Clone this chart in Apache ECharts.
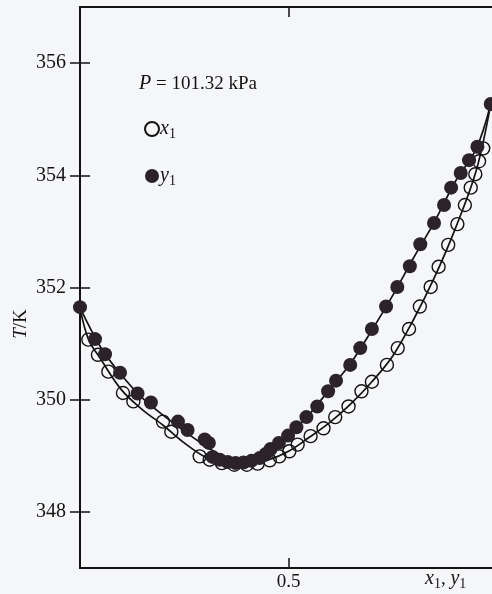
<!DOCTYPE html>
<html>
<head>
<meta charset="utf-8">
<script src="https://cdn.jsdelivr.net/npm/echarts@6/dist/echarts.min.js"></script>
<style>
html,body{margin:0;padding:0;background:#f4f6f8;}
#c{width:492px;height:594px;}
</style>
</head>
<body>
<div id="c"></div>
<script>
// ---- data ----
const yTicks = [348, 350, 352, 354, 356];
const xTicks = [0.5];
const pressureLabel = 'P = 101.32 kPa';

// liquid composition x1 vs T/K (open circles)
const x1Points = [
  [0.020,351.07],[0.043,350.80],[0.068,350.50],[0.103,350.12],[0.128,349.97],
  [0.199,349.61],[0.219,349.43],[0.287,348.99],[0.311,348.93],[0.340,348.87],
  [0.370,348.84],[0.400,348.84],[0.426,348.86],[0.455,348.92],[0.478,348.99],
  [0.502,349.08],[0.522,349.20],[0.553,349.35],[0.584,349.49],[0.612,349.69],
  [0.644,349.88],[0.675,350.15],[0.700,350.32],[0.736,350.62],[0.762,350.92],
  [0.789,351.26],[0.815,351.66],[0.841,352.01],[0.860,352.37],[0.883,352.76],
  [0.905,353.13],[0.923,353.47],[0.937,353.78],[0.948,354.02],[0.957,354.25],
  [0.967,354.48]
];
// vapour composition y1 vs T/K (filled circles)
const y1Points = [
  [0.000,351.65],[0.036,351.08],[0.060,350.81],[0.096,350.48],[0.138,350.11],
  [0.170,349.95],[0.235,349.61],[0.258,349.46],[0.299,349.29],[0.309,349.23],
  [0.318,348.98],[0.335,348.93],[0.354,348.89],[0.373,348.87],[0.392,348.88],
  [0.411,348.91],[0.431,348.96],[0.445,349.03],[0.457,349.12],[0.477,349.23],[0.499,349.36],
  [0.519,349.51],[0.543,349.69],[0.569,349.88],[0.595,350.15],[0.614,350.34],
  [0.648,350.62],[0.672,350.92],[0.700,351.26],[0.734,351.66],[0.761,352.01],
  [0.791,352.38],[0.816,352.77],[0.849,353.15],[0.873,353.47],[0.890,353.78],
  [0.913,354.04],[0.933,354.27],[0.953,354.51],[0.985,355.27]
];
// fitted curves
const bubbleFit = [
  [0,351.64],[0.02,351.08],[0.05,350.72],[0.1,350.17],[0.15,349.82],[0.2,349.54],
  [0.25,349.23],[0.3,348.98],[0.35,348.87],[0.4,348.84],[0.45,348.92],[0.5,349.08],
  [0.55,349.33],[0.6,349.60],[0.65,349.93],[0.7,350.32],[0.75,350.78],[0.8,351.43],
  [0.85,352.18],[0.9,353.05],[0.95,354.08],[0.985,355.27]
];
const dewFit = [
  [0,351.64],[0.05,350.93],[0.1,350.43],[0.15,350.03],[0.2,349.72],[0.25,349.44],
  [0.3,349.18],[0.35,348.97],[0.4,348.88],[0.45,349.07],[0.5,349.36],[0.55,349.74],
  [0.6,350.20],[0.65,350.66],[0.7,351.24],[0.75,351.86],[0.8,352.53],[0.85,353.17],
  [0.9,353.89],[0.95,354.47],[0.985,355.27]
];

const SERIF = '"Liberation Serif","DejaVu Serif",serif';
const INK = '#151214';
const DOT = '#2b2329';

const chart = echarts.init(document.getElementById('c'), null, {renderer: 'canvas'});

const richSub = {
  i: {fontFamily: SERIF, fontStyle: 'italic', fontSize: 20, color: INK},
  n: {fontFamily: SERIF, fontSize: 19, color: INK},
  s: {fontFamily: SERIF, fontSize: 14, color: INK, padding: [10, 0, 0, 0]}
};

chart.setOption({
  backgroundColor: '#f4f6f8',
  animation: false,
  grid: {left: 80, top: 7, width: 417, height: 561, outerBoundsMode: 'none', containLabel: false},
  xAxis: [{
    type: 'value', min: 0, max: 1, position: 'bottom',
    axisLine: {show: true, lineStyle: {color: INK, width: 2}},
    axisTick: {show: true, inside: true, length: 10, customValues: xTicks, lineStyle: {color: INK, width: 1.5}},
    axisLabel: {show: true, customValues: xTicks, margin: 5, fontFamily: SERIF, fontSize: 19, color: INK,
      formatter: v => String(v)},
    splitLine: {show: false}
  }, {
    type: 'value', min: 0, max: 1, position: 'top',
    axisLine: {show: true, lineStyle: {color: INK, width: 2}},
    axisTick: {show: true, inside: true, length: 10, customValues: xTicks, lineStyle: {color: INK, width: 1.5}},
    axisLabel: {show: false},
    splitLine: {show: false}
  }],
  yAxis: [{
    type: 'value', min: 347, max: 357, position: 'left',
    axisLine: {show: true, lineStyle: {color: INK, width: 2}},
    axisTick: {show: true, inside: true, length: 10, customValues: yTicks, lineStyle: {color: INK, width: 1.5}},
    axisLabel: {show: true, customValues: yTicks, margin: 14, fontFamily: SERIF, fontSize: 20, color: INK},
    splitLine: {show: false}
  }, {
    type: 'value', min: 347, max: 357, position: 'right',
    axisLine: {show: true, lineStyle: {color: INK, width: 2}},
    axisTick: {show: true, inside: true, length: 10, customValues: yTicks, lineStyle: {color: INK, width: 1.5}},
    axisLabel: {show: false},
    splitLine: {show: false}
  }],
  legend: {
    data: ['x1', 'y1'],
    orient: 'vertical',
    left: 139, top: 112,
    itemWidth: 14, itemHeight: 14, itemGap: 23,
    icon: 'circle',
    textStyle: {rich: richSub, lineHeight: 24, padding: [0, 0, 0, -4]},
    formatter: n => n === 'x1' ? '{i|x}{s|1}' : '{i|y}{s|1}'
  },
  series: [
    {name: 'bubble', type: 'line', data: bubbleFit, smooth: 0.35, showSymbol: false, silent: true,
      lineStyle: {color: INK, width: 1.7}, z: 2},
    {name: 'dew', type: 'line', data: dewFit, smooth: 0.35, showSymbol: false, silent: true,
      lineStyle: {color: INK, width: 1.7}, z: 2},
    {name: 'x1', type: 'scatter', data: x1Points, symbol: 'circle', symbolSize: 13,
      itemStyle: {color: 'rgba(0,0,0,0)', borderColor: INK, borderWidth: 1.4, opacity: 1}, z: 3},
    {name: 'y1', type: 'scatter', data: y1Points, symbol: 'circle', symbolSize: 14,
      itemStyle: {color: DOT, borderColor: DOT, borderWidth: 0, opacity: 1}, z: 4}
  ],
  graphic: [
    {type: 'text', left: 139, top: 74,
      style: {text: '{i|P}{n| = 101.32 kPa}', rich: richSub, fill: INK}},
    {type: 'text', x: 21, y: 324, rotation: Math.PI / 2,
      style: {text: '{i|T}{n|/K}', rich: {i: {fontFamily: SERIF, fontStyle: 'italic', fontSize: 19, color: INK}, n: {fontFamily: SERIF, fontSize: 19, color: INK}},
        align: 'center', verticalAlign: 'middle', fill: INK}},
    {type: 'text', left: 425, top: 569,
      style: {text: '{i|x}{s|1}{n|, }{i|y}{s|1}', rich: richSub, fill: INK}}
  ]
});
</script>
</body>
</html>
